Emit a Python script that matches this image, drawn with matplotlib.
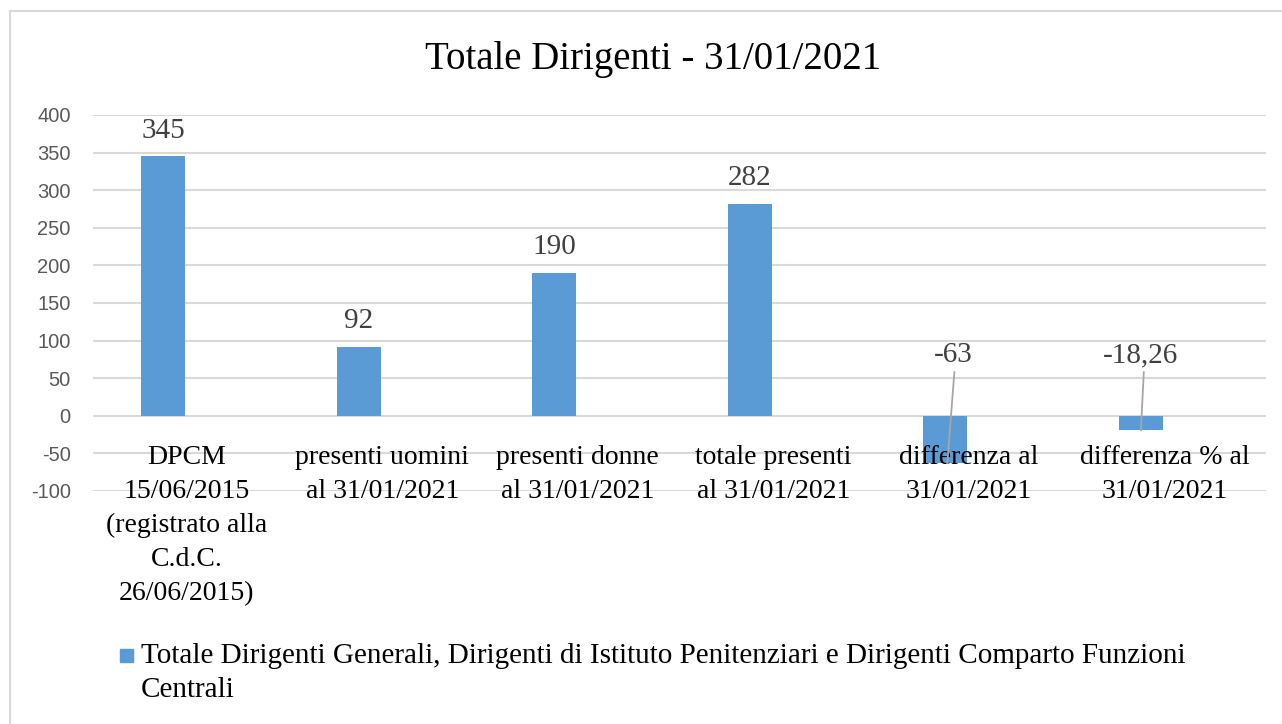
import matplotlib
matplotlib.use("Agg")
import matplotlib.pyplot as plt
from matplotlib.patches import Rectangle
from matplotlib.lines import Line2D

# data
categories = ["DPCM\n15/06/2015\n(registrato alla\nC.d.C.\n26/06/2015)",
              "presenti uomini\nal 31/01/2021",
              "presenti donne\nal 31/01/2021",
              "totale presenti\nal 31/01/2021",
              "differenza al\n31/01/2021",
              "differenza % al\n31/01/2021"]
values = [345, 92, 190, 282, -63, -18.26]
value_labels = ["345", "92", "190", "282", "-63", "-18,26"]
yticks = [-100, -50, 0, 50, 100, 150, 200, 250, 300, 350, 400]
series_name = ("Totale Dirigenti Generali, Dirigenti di Istituto Penitenziari e "
               "Dirigenti Comparto Funzioni\nCentrali")
title = "Totale Dirigenti - 31/01/2021"

bar_color = "#5b9bd5"
grid_color = "#d9d9d9"
serif = ["Liberation Serif", "DejaVu Serif"]

fig = plt.figure(figsize=(12.82, 7.24), dpi=100)
W, H = 1282, 724
ax = fig.add_axes([93 / W, 1 - 491 / H, (1266 - 93) / W, (491 - 115) / H])

# bars sit left of the category centre (empty second series slot in the original)
bw = 0.225
off = -0.14
x = list(range(len(values)))
xb = [i + off for i in x]
ax.bar(xb, values, width=bw, color=bar_color, zorder=3)

ax.set_xlim(-0.5, len(values) - 0.5)
ax.set_ylim(-100, 400)
ax.set_yticks(yticks)
ax.set_yticklabels([str(t) for t in yticks], fontfamily=["Liberation Sans"],
                   fontsize=14.5, color="#595959")
ax.tick_params(axis="y", length=0, pad=16)
ax.set_xticks([])
for s in ax.spines.values():
    s.set_visible(False)
ax.yaxis.grid(True, color=grid_color, linewidth=1.5, zorder=0)

# category labels under the zero line
for i, lab in enumerate(categories):
    ax.annotate(lab, (i - 0.02, 0), xytext=(0, -21), textcoords="offset points",
                ha="center", va="top", fontsize=20, family=serif,
                linespacing=1.47, color="black")

# data labels
for i, (v, lab) in enumerate(zip(values, value_labels)):
    if v >= 0:
        ax.annotate(lab, (xb[i], v), xytext=(0, 9), textcoords="offset points",
                    ha="center", va="bottom", fontsize=21, family=serif,
                    color="#404040")
    else:
        dx = 0.04 if v < -30 else 0.0
        ax.text(xb[i] + dx, 81, lab, ha="center", va="center", fontsize=21,
                family=serif, color="#404040")
        ax.plot([xb[i] + 0.046 * (dx > 0) + 0.015 * (dx == 0), xb[i] + 0.01 * (dx > 0)],
                [58, min(v, -19)], color="#a6a6a6", linewidth=1.3, zorder=4)

fig.text(653 / W, 1 - 59 / H, title, ha="center", va="center",
         fontsize=28, family=serif)

# legend
fig.add_artist(Rectangle((120 / W, 1 - 662 / H), 13 / W, 13 / H,
                         transform=fig.transFigure, color=bar_color))
fig.text(141 / W, 1 - 643 / H, series_name, ha="left", va="top", fontsize=21,
         family=serif, linespacing=1.42)

# chart border
fig.add_artist(Line2D([9.5 / W, 9.5 / W], [0, 1 - 10.5 / H],
                      transform=fig.transFigure, color="#d9d9d9", linewidth=1.5))
fig.add_artist(Line2D([9.5 / W, 1], [1 - 10.5 / H, 1 - 10.5 / H],
                      transform=fig.transFigure, color="#d9d9d9", linewidth=1.5))

fig.savefig("out.png", dpi=100)
